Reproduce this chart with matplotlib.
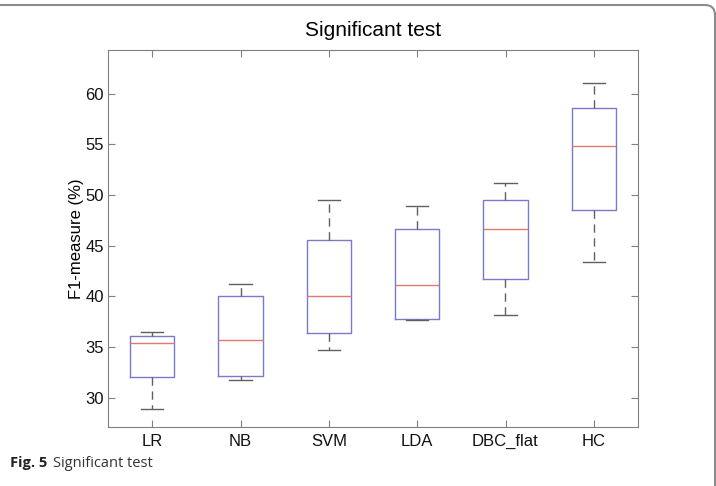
import numpy as np
import matplotlib
matplotlib.use("Agg")
from matplotlib import pyplot as plt
from matplotlib.patches import FancyBboxPatch

# values
methods = ["LR", "NB", "SVM", "LDA", "DBC_flat", "HC"]
whisker_low = [28.9, 31.7, 34.7, 37.7, 38.2, 43.4]
q1 = [32.0, 32.1, 36.4, 37.8, 41.7, 48.5]
median = [35.4, 35.7, 40.0, 41.1, 46.6, 54.8]
q3 = [36.1, 40.0, 45.6, 46.6, 49.5, 58.6]
whisker_high = [36.5, 41.2, 49.5, 48.9, 51.2, 61.0]

plt.rcParams['font.family'] = ['Liberation Sans', 'DejaVu Sans']

fig = plt.figure(figsize=(7.16, 4.86), dpi=100)
ax = fig.add_axes([108 / 716, 1 - 427 / 486, 530 / 716, 377 / 486])

stats = []
for i in range(len(methods)):
    stats.append({"label": methods[i], "whislo": whisker_low[i], "q1": q1[i],
                  "med": median[i], "q3": q3[i], "whishi": whisker_high[i], "fliers": []})

ax.bxp(stats, positions=range(1, len(methods) + 1), widths=0.5, showfliers=False,
       boxprops=dict(color="#7a7ac8", linewidth=1.0),
       medianprops=dict(color="#e07a6e", linewidth=1.0),
       whiskerprops=dict(color="#606060", linewidth=1.0, linestyle=(0, (6, 4))),
       capprops=dict(color="#606060", linewidth=1.0))

ax.set_xlim(0.5, 6.5)
ax.set_ylim(27.1, 64.3)
ax.set_yticks([30, 35, 40, 45, 50, 55, 60])
ax.set_xticks(range(1, 7))
ax.set_xticklabels(methods)
ax.tick_params(direction="in", top=True, right=True, length=5, color="#808080",
               labelsize=12, labelcolor="#111111", pad=5)
ax.tick_params(axis="y", pad=3)
for s in ax.spines.values():
    s.set_color("#808080")
ax.set_title("Significant test", fontsize=15, pad=10)
ax.set_ylabel("F1-measure (%)", fontsize=12, labelpad=1)

# outer frame of the figure panel (inches)
frame = FancyBboxPatch((-0.4, -0.4), 7.15 + 0.4, 4.81 + 0.4,
                       boxstyle="round,pad=0,rounding_size=0.1",
                       transform=fig.dpi_scale_trans, facecolor="none",
                       edgecolor="#8c8c8c", linewidth=1.5, clip_on=False)
fig.patches.append(frame)

fig.text(10 / 716, 1 - 463 / 486, "Fig. 5", fontsize=10.5, fontweight="bold",
         family=["Open Sans", "DejaVu Sans"], color="#222222", va="center")
fig.text(53 / 716, 1 - 463 / 486, "Significant test", fontsize=10.5,
         family=["Open Sans", "DejaVu Sans"], color="#333333", va="center")

fig.savefig("out.png", dpi=100)
